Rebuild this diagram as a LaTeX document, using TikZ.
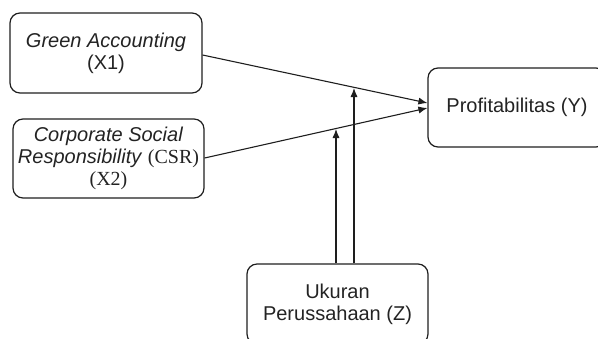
\documentclass[tikz,border=0pt]{standalone}
\usepackage{fontspec}
\setmainfont{Liberation Sans}
\newfontfamily\timesf{Liberation Serif}
\usetikzlibrary{arrows.meta,calc}
\definecolor{txt}{RGB}{35,35,35}
\definecolor{ln}{RGB}{30,30,30}
\begin{document}
\begin{tikzpicture}[x=0.5pt,y=-0.5pt,
  box/.style={draw=ln,line width=0.6pt,rounded corners=5pt,align=center,inner sep=0pt,
    text=txt,font=\fontsize{10}{11}\selectfont},
  conn/.style={draw=ln,line width=0.55pt,-{Latex[length=4.5pt,width=3.6pt]}}]
\clip (0,0) rectangle (598,338);
\useasboundingbox (0,0) rectangle (598,338);
\node[box,minimum width=96pt,minimum height=40pt] (x1) at (106,53) {\textit{Green Accounting}\\(X1)};
\node[box,minimum width=95.5pt,minimum height=39.5pt] (x2) at (108.5,158.5) {\textit{Corporate Social}\\\textit{Responsibility} {\timesf(CSR)}\\{\timesf(X2)}};
\node[box,minimum width=89pt,minimum height=39.5pt] (y) at (517,107.5) {Profitabilitas (Y)};
\node[box,minimum width=90.5pt,minimum height=40pt] (z) at (337.5,304) {Ukuran\\Perussahaan (Z)};
\coordinate (t1) at (354,88);
\coordinate (t2) at (336,129);
\draw[conn] ($(x1.east)+(0,2)$) -- ($(y.west)+(0,-4.5)$);
\draw[conn] ($(x2.east)+(0,-0.5)$) -- ($(y.west)+(0,0.5)$);
\draw[conn] (z.north -| t2) -- (t2);
\draw[conn] (z.north -| t1) -- (t1);
\end{tikzpicture}
\end{document}
